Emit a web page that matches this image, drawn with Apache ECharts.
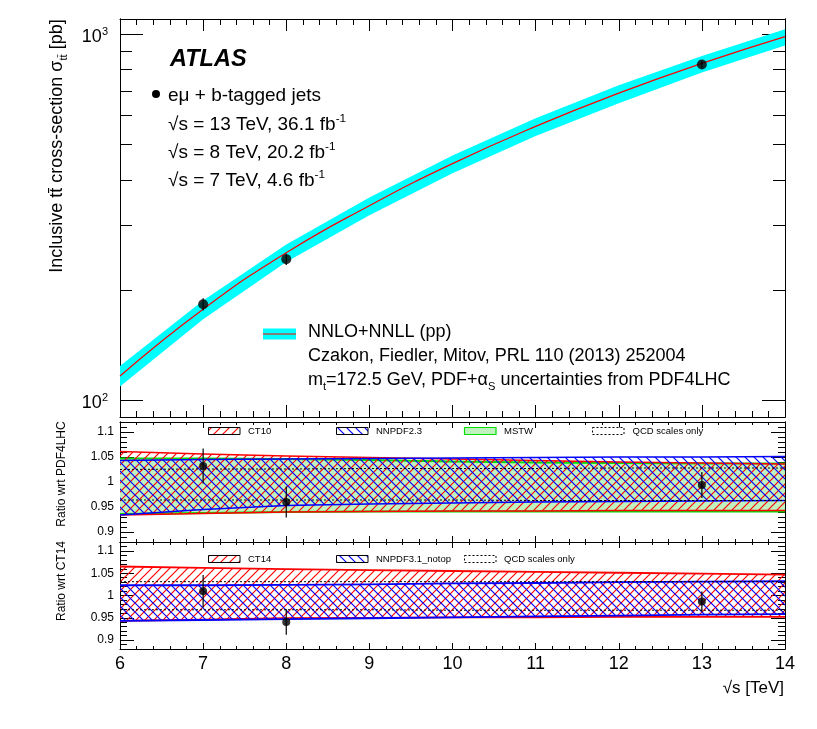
<!DOCTYPE html>
<html><head><meta charset="utf-8">
<script src="https://cdn.jsdelivr.net/npm/echarts@6/dist/echarts.min.js"></script>
<style>html,body{margin:0;padding:0;background:#fff}#c{width:817px;height:729px}</style>
</head><body><div id="c"></div>
<script>
// ---------------- data ----------------
const energies = [6, 7, 8, 9, 10, 11, 12, 13, 14];
const theoryCentral = [116.5, 177.3, 252.9, 340, 443, 560, 690, 831.8, 984.5];
const theoryHigh = [124, 187.4, 266.2, 358, 466, 589, 725, 872, 1031];
const theoryLow = [109, 166.5, 238.4, 320, 417, 527, 648, 786, 931];

const measEnergies = [7, 8, 13];
const measXsec = [182.9, 242.9, 826.4];
const measXsecErr = [7.1, 8.8, 20.0];

// ratio wrt PDF4LHC
const ct10High = [1.061, 1.056, 1.052, 1.049, 1.046, 1.043, 1.040, 1.038, 1.036];
const ct10Low = [0.934, 0.937, 0.940, 0.941, 0.942, 0.942, 0.943, 0.943, 0.943];
const nnpdf23High = [1.043, 1.045, 1.046, 1.047, 1.048, 1.049, 1.050, 1.050, 1.051];
const nnpdf23Low = [0.934, 0.945, 0.953, 0.956, 0.958, 0.960, 0.961, 0.962, 0.963];
const mstwHigh = [1.047, 1.047, 1.046, 1.044, 1.041, 1.039, 1.038, 1.037, 1.037];
const mstwLow = [0.936, 0.938, 0.940, 0.941, 0.941, 0.941, 0.941, 0.941, 0.941];
const qcd1High = [1.025, 1.026, 1.026, 1.027, 1.027, 1.027, 1.028, 1.028, 1.028];
const qcd1Low = [0.964, 0.964, 0.964, 0.964, 0.964, 0.963, 0.963, 0.963, 0.963];
const ratioPdf4lhc = [1.032, 0.960, 0.994];
const ratioPdf4lhcErr = [0.035, 0.031, 0.026];

// ratio wrt CT14
const ct14High = [1.065, 1.062, 1.059, 1.057, 1.055, 1.053, 1.051, 1.049, 1.047];
const ct14Low = [0.943, 0.946, 0.949, 0.950, 0.951, 0.951, 0.952, 0.952, 0.952];
const nnpdf31High = [1.023, 1.023, 1.024, 1.025, 1.027, 1.028, 1.030, 1.031, 1.032];
const nnpdf31Low = [0.943, 0.945, 0.947, 0.949, 0.951, 0.953, 0.955, 0.957, 0.958];
const qcd2High = [1.031, 1.031, 1.031, 1.031, 1.031, 1.031, 1.031, 1.031, 1.031];
const qcd2Low = [0.968, 0.968, 0.968, 0.968, 0.967, 0.967, 0.967, 0.967, 0.967];
const ratioCt14 = [1.0095, 0.9405, 0.9865];
const ratioCt14Err = [0.0365, 0.0285, 0.0225];

// tick labels / positions
const logMajorTicks = [100, 1000];
const logMinorTicks = [200, 300, 400, 500, 600, 700, 800, 900];
const ratioMajorTicks = [0.9, 0.95, 1, 1.05, 1.1];
const ratioMinorTicks = [0.89, 0.91, 0.92, 0.93, 0.94, 0.96, 0.97, 0.98, 0.99, 1.01, 1.02, 1.03, 1.04, 1.06, 1.07, 1.08, 1.09, 1.11];

// ---------------- helpers ----------------
const FONT = '"Liberation Sans", Arial, Helvetica, sans-serif';

function hatchPattern(color, dir, size, bg) {
  const c = document.createElement('canvas');
  c.width = size; c.height = size;
  const g = c.getContext('2d');
  if (bg) { g.fillStyle = bg; g.fillRect(0, 0, size, size); }
  g.strokeStyle = color; g.lineWidth = 1.2;
  g.beginPath();
  if (dir === '/') {
    g.moveTo(-1, size + 1); g.lineTo(size + 1, -1);
    g.moveTo(-1, 1); g.lineTo(1, -1);
    g.moveTo(size - 1, size + 1); g.lineTo(size + 1, size - 1);
  } else {
    g.moveTo(-1, -1); g.lineTo(size + 1, size + 1);
    g.moveTo(-1, size - 1); g.lineTo(1, size + 1);
    g.moveTo(size - 1, -1); g.lineTo(size + 1, 1);
  }
  g.stroke();
  return { image: c, repeat: 'repeat' };
}
const redHatch = hatchPattern('#ff0000', '/', 9);
const blueHatch = hatchPattern('#0000ff', '\\', 9);
const mstwFill = '#c0f2c0';

function bandSeries(xIdx, yIdx, lo, hi, fill, stroke, lw, dash, z) {
  return {
    type: 'custom', xAxisIndex: xIdx, yAxisIndex: yIdx, z: z, clip: true, silent: true,
    data: energies.map((e, i) => [e, lo[i], hi[i]]),
    encode: { x: 0, y: [1, 2] },
    renderItem(params, api) {
      if (params.dataIndexInside !== 0) return;
      const n = params.dataInsideLength;
      const up = [], dn = [];
      for (let j = 0; j < n; j++) {
        up.push(api.coord([api.value(0, j), api.value(2, j)]));
        dn.push(api.coord([api.value(0, j), api.value(1, j)]));
      }
      const children = [];
      if (fill) children.push({ type: 'polygon', shape: { points: up.concat(dn.slice().reverse()) }, style: { fill: fill, stroke: null } });
      if (stroke) {
        children.push({ type: 'polyline', shape: { points: up }, style: { fill: null, stroke: stroke, lineWidth: lw, lineDash: dash || null } });
        children.push({ type: 'polyline', shape: { points: dn }, style: { fill: null, stroke: stroke, lineWidth: lw, lineDash: dash || null } });
      }
      return { type: 'group', children: children };
    }
  };
}
function errSeries(xIdx, yIdx, xs, ys, es, z) {
  return {
    type: 'custom', xAxisIndex: xIdx, yAxisIndex: yIdx, z: z, silent: true,
    data: xs.map((x, i) => [x, ys[i] - es[i], ys[i] + es[i]]),
    encode: { x: 0, y: [1, 2] },
    renderItem(params, api) {
      const a = api.coord([api.value(0), api.value(1)]);
      const b = api.coord([api.value(0), api.value(2)]);
      return { type: 'line', shape: { x1: a[0], y1: a[1], x2: b[0], y2: b[1] }, style: { stroke: '#000', lineWidth: 1.2 } };
    }
  };
}
function pointSeries(xIdx, yIdx, xs, ys, size, z) {
  return {
    type: 'scatter', xAxisIndex: xIdx, yAxisIndex: yIdx, z: z, silent: true,
    symbol: 'circle', symbolSize: size, itemStyle: { color: '#000' },
    data: xs.map((x, i) => [x, ys[i]])
  };
}

// axes
function xAx(grid, pos, showLabels, majLen, minLen) {
  return {
    type: 'value', gridIndex: grid, position: pos, min: 6, max: 14, interval: 1,
    axisLine: { show: true, onZero: false, lineStyle: { color: '#000', width: 1 } },
    axisTick: { show: true, inside: true, length: majLen, lineStyle: { color: '#000', width: 1 } },
    minorTick: { show: true, splitNumber: 5, length: minLen, lineStyle: { color: '#000', width: 1 } },
    axisLabel: { show: showLabels, fontSize: 18, fontFamily: FONT, color: '#000', margin: 6 },
    splitLine: { show: false }, minorSplitLine: { show: false }
  };
}
function logAx(grid, pos, ticks, len, labels) {
  return {
    type: 'log', logBase: 10, gridIndex: grid, position: pos, min: 90, max: 1100,
    axisLine: { show: true, onZero: false, lineStyle: { color: '#000', width: 1 } },
    axisTick: { show: true, inside: true, length: len, customValues: ticks, lineStyle: { color: '#000', width: 1 } },
    axisLabel: labels ? {
      show: true, customValues: logMajorTicks, margin: 12, padding: [6, 0, 0, 0],
      formatter: v => '{b|10}{s|' + Math.round(Math.log10(v)) + '}',
      rich: { b: { fontSize: 18, fontFamily: FONT, color: '#000', lineHeight: 22 },
              s: { fontSize: 11, fontFamily: FONT, color: '#000', lineHeight: 12, verticalAlign: 'top' } }
    } : { show: false },
    splitLine: { show: false }
  };
}
function ratioAx(grid, pos, ticks, len, labels) {
  return {
    type: 'value', gridIndex: grid, position: pos, min: 0.88, max: 1.12,
    axisLine: { show: true, onZero: false, lineStyle: { color: '#000', width: 1 } },
    axisTick: { show: true, inside: true, length: len, customValues: ticks, lineStyle: { color: '#000', width: 1 } },
    axisLabel: labels ? {
      show: true, customValues: ratioMajorTicks, margin: 6, fontSize: 12, fontFamily: FONT, color: '#000',
      formatter: v => String(Math.round(v * 100) / 100)
    } : { show: false },
    splitLine: { show: false }
  };
}

function txt(x, y, text, size, opts) {
  opts = opts || {};
  return {
    type: 'text', x: x, y: y, rotation: opts.rotation || 0, z: 100, silent: true,
    style: {
      text: text, fill: '#000',
      fontSize: size, fontFamily: FONT, fontStyle: opts.italic ? 'italic' : 'normal', fontWeight: opts.bold ? 'bold' : 'normal',
      align: opts.align || 'left', verticalAlign: 'middle', rich: opts.rich
    }
  };
}
function supRich(size) {
  return {
    n: { fontSize: size, fontFamily: FONT, color: '#000', lineHeight: size + 6 },
    sup: { fontSize: size * 0.62, fontFamily: FONT, color: '#000', lineHeight: size * 0.62 + 2, verticalAlign: 'top' },
    sub: { fontSize: size * 0.62, fontFamily: FONT, color: '#000', lineHeight: size * 0.62 + 2, verticalAlign: 'bottom' }
  };
}

// ---------------- chart ----------------
const chart = echarts.init(document.getElementById('c'), null, { renderer: 'canvas' });
const LX = 120, RX = 32;
const TL = 19;   // top-left block font size
const LG = 18;   // legend font size

const graphics = [
  txt(170, 60, 'ATLAS', 23.5, { italic: true, bold: true }),
  { type: 'circle', shape: { cx: 156, cy: 94, r: 4 }, style: { fill: '#000' }, z: 100, silent: true },
  txt(168, 96, 'eμ + b-tagged jets', TL),
  txt(168, 125, '{n|√s = 13 TeV, 36.1 fb}{sup|-1}', TL, { rich: supRich(TL) }),
  txt(168, 153, '{n|√s = 8 TeV, 20.2 fb}{sup|-1}', TL, { rich: supRich(TL) }),
  txt(168, 181, '{n|√s = 7 TeV, 4.6 fb}{sup|-1}', TL, { rich: supRich(TL) }),
  { type: 'rect', shape: { x: 263, y: 328.5, width: 33, height: 11 }, style: { fill: '#00ffff' }, z: 100, silent: true },
  { type: 'line', shape: { x1: 263, y1: 334, x2: 296, y2: 334 }, style: { stroke: '#ff0000', lineWidth: 1.2 }, z: 101, silent: true },
  txt(308, 332, 'NNLO+NNLL (pp)', LG),
  txt(308, 356, 'Czakon, Fiedler, Mitov, PRL 110 (2013) 252004', LG),
  txt(308, 380, '{n|m}{sub|t}{n|=172.5 GeV, PDF+α}{sub|S}{n| uncertainties from PDF4LHC}', LG, { rich: supRich(LG) }),
  txt(57, 146, '{n|Inclusive tt\u0304 cross-section σ}{sub|tt\u0304}{n| [pb]}', 18, { rotation: Math.PI / 2, align: 'center', rich: supRich(18) }),
  txt(62, 474, 'Ratio wrt PDF4LHC', 12, { rotation: Math.PI / 2, align: 'center' }),
  txt(62, 581, 'Ratio wrt CT14', 12, { rotation: Math.PI / 2, align: 'center' }),
  txt(784, 688, '√s [TeV]', 17, { align: 'right' }),
  // middle legend
  { type: 'rect', shape: { x: 208.5, y: 427.5, width: 31.5, height: 7 }, style: { fill: redHatch, stroke: '#000', lineWidth: 1 }, z: 100, silent: true },
  txt(248, 431, 'CT10', 9.5),
  { type: 'rect', shape: { x: 336.5, y: 427.5, width: 31.5, height: 7 }, style: { fill: blueHatch, stroke: '#000', lineWidth: 1 }, z: 100, silent: true },
  txt(376, 431, 'NNPDF2.3', 9.5),
  { type: 'rect', shape: { x: 464.5, y: 427.5, width: 31.5, height: 7 }, style: { fill: mstwFill, stroke: '#00dd00', lineWidth: 1.2 }, z: 100, silent: true },
  txt(504, 431, 'MSTW', 9.5),
  { type: 'rect', shape: { x: 592.5, y: 427.5, width: 31.5, height: 7 }, style: { fill: '#fff', stroke: '#000', lineWidth: 1, lineDash: [2, 2] }, z: 100, silent: true },
  txt(632.5, 431, 'QCD scales only', 9.5),
  // bottom legend
  { type: 'rect', shape: { x: 208.5, y: 555.5, width: 31.5, height: 7 }, style: { fill: redHatch, stroke: '#000', lineWidth: 1 }, z: 100, silent: true },
  txt(248, 559, 'CT14', 9.5),
  { type: 'rect', shape: { x: 336.5, y: 555.5, width: 31.5, height: 7 }, style: { fill: blueHatch, stroke: '#000', lineWidth: 1 }, z: 100, silent: true },
  txt(376, 559, 'NNPDF3.1_notop', 9.5),
  { type: 'rect', shape: { x: 464.5, y: 555.5, width: 31.5, height: 7 }, style: { fill: '#fff', stroke: '#000', lineWidth: 1, lineDash: [2, 2] }, z: 100, silent: true },
  txt(504, 559, 'QCD scales only', 9.5)
];

const option = {
  animation: false,
  backgroundColor: '#fff',
  grid: [
    { left: LX, right: RX, top: 19, height: 398 },
    { left: LX, right: RX, top: 422, height: 120 },
    { left: LX, right: RX, top: 542, height: 107 }
  ],
  xAxis: [
    xAx(0, 'bottom', false, 12, 6), xAx(0, 'top', false, 12, 6),
    xAx(1, 'bottom', false, 6, 3), xAx(1, 'top', false, 6, 3),
    xAx(2, 'bottom', true, 6, 3), xAx(2, 'top', false, 6, 3)
  ],
  yAxis: [
    logAx(0, 'left', logMajorTicks, 23, true), logAx(0, 'left', logMinorTicks, 12, false),
    logAx(0, 'right', logMajorTicks, 23, false), logAx(0, 'right', logMinorTicks, 12, false),
    ratioAx(1, 'left', ratioMajorTicks, 14, true), ratioAx(1, 'left', ratioMinorTicks, 7, false),
    ratioAx(1, 'right', ratioMajorTicks, 14, false), ratioAx(1, 'right', ratioMinorTicks, 7, false),
    ratioAx(2, 'left', ratioMajorTicks, 14, true), ratioAx(2, 'left', ratioMinorTicks, 7, false),
    ratioAx(2, 'right', ratioMajorTicks, 14, false), ratioAx(2, 'right', ratioMinorTicks, 7, false)
  ],
  series: [
    // top panel
    bandSeries(0, 0, theoryLow, theoryHigh, '#00ffff', null, 0, null, 2),
    { type: 'line', xAxisIndex: 0, yAxisIndex: 0, z: 3, silent: true, symbol: 'none', smooth: true,
      lineStyle: { color: '#ff0000', width: 1.2 }, data: energies.map((e, i) => [e, theoryCentral[i]]) },
    errSeries(0, 0, measEnergies, measXsec, measXsecErr, 4),
    pointSeries(0, 0, measEnergies, measXsec, 10, 5),
    // middle panel
    bandSeries(2, 4, mstwLow, mstwHigh, mstwFill, '#00dd00', 2, null, 2),
    bandSeries(2, 4, ct10Low, ct10High, redHatch, '#ff0000', 1.6, null, 3),
    bandSeries(2, 4, nnpdf23Low, nnpdf23High, blueHatch, '#0000ff', 1.6, null, 4),
    bandSeries(2, 4, qcd1Low, qcd1High, null, '#000', 1, [2, 2], 5),
    errSeries(2, 4, measEnergies, ratioPdf4lhc, ratioPdf4lhcErr, 6),
    pointSeries(2, 4, measEnergies, ratioPdf4lhc, 8, 7),
    // bottom panel
    bandSeries(4, 8, ct14Low, ct14High, redHatch, '#ff0000', 1.8, null, 3),
    bandSeries(4, 8, nnpdf31Low, nnpdf31High, blueHatch, '#0000ff', 1.8, null, 4),
    bandSeries(4, 8, qcd2Low, qcd2High, null, '#000', 1, [2, 2], 5),
    errSeries(4, 8, measEnergies, ratioCt14, ratioCt14Err, 6),
    pointSeries(4, 8, measEnergies, ratioCt14, 8, 7)
  ],
  graphic: graphics
};
chart.setOption(option);
</script>
</body></html>
